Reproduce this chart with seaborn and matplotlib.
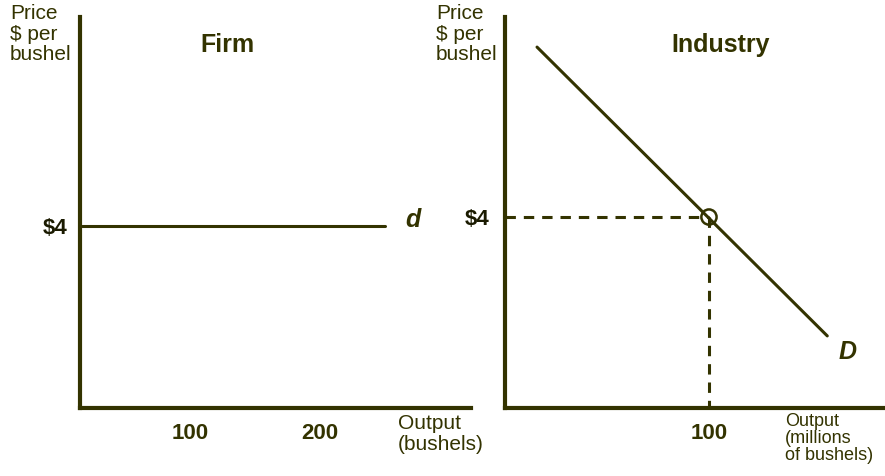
import numpy as np
import pandas as pd
import matplotlib
matplotlib.use("Agg")
import matplotlib.pyplot as plt
import seaborn as sns

# =====================================
# Data
# =====================================

firm_output = [17, 250]
firm_price = [4, 4]
firm_ticks = [100, 200]

industry_output = [15.7, 158]
industry_price = [7.56, 1.51]
industry_ticks = [100]

eq_quantity = 100
eq_price = 4

# =====================================
# Style
# =====================================

sns.set_style("white")
plt.rcParams["font.family"] = ["Liberation Sans", "DejaVu Sans"]

ink = "#333300"
W, H = 885, 476

fig = plt.figure(figsize=(W / 100, H / 100), dpi=100)

ax1 = fig.add_axes([80 / W, 68 / H, 391 / W, 391 / H])
ax2 = fig.add_axes([505 / W, 68 / H, 380 / W, 391 / H])

for ax in (ax1, ax2):
    sns.despine(ax=ax)
    for side in ("left", "bottom"):
        ax.spines[side].set_color(ink)
        ax.spines[side].set_linewidth(3)
    ax.tick_params(length=0, colors=ink)
    ax.set_facecolor("none")

# =====================================
# Firm
# =====================================

sns.lineplot(x=firm_output, y=firm_price, ax=ax1, color=ink, linewidth=2.2)
ax1.set_xlim(15.4, 316)
ax1.set_ylim(0, 8.6)
ax1.set_xticks(firm_ticks)
ax1.set_xticklabels([str(t) for t in firm_ticks], fontsize=16, fontweight="bold")
ax1.set_yticks([eq_price])
ax1.set_yticklabels(["$4"], fontsize=16, fontweight="bold", color="#1a1a00")
ax1.tick_params(axis="x", pad=11)
ax1.tick_params(axis="y", pad=9)
ax1.text(0.378, 0.928, "Firm", transform=ax1.transAxes, ha="center", va="center",
         fontsize=18, fontweight="bold", color=ink)
ax1.text(firm_output[1] + 21, eq_price + 0.13, "d", ha="center", va="center",
         fontsize=18, fontweight="bold", fontstyle="italic", color=ink)

# =====================================
# Industry
# =====================================

sns.lineplot(x=industry_output, y=industry_price, ax=ax2, color=ink, linewidth=2.2)
dash = (0, (3.4, 2.6))
ax2.plot([0, eq_quantity], [eq_price, eq_price], color=ink, linewidth=2.2,
         linestyle=dash)
ax2.plot([eq_quantity, eq_quantity], [eq_price, 0], color=ink, linewidth=2.2,
         linestyle=dash)
ax2.scatter([eq_quantity], [eq_price], s=120, facecolors="none", edgecolors=ink,
            linewidths=1.8, zorder=5)
ax2.set_xlim(0, 186.3)
ax2.set_ylim(0, 8.19)
ax2.set_xticks(industry_ticks)
ax2.set_xticklabels([str(t) for t in industry_ticks], fontsize=16, fontweight="bold")
ax2.set_yticks([eq_price])
ax2.set_yticklabels(["$4"], fontsize=16, fontweight="bold", color="#1a1a00")
ax2.tick_params(axis="x", pad=11)
ax2.tick_params(axis="y", pad=11)
ax2.text(0.568, 0.928, "Industry", transform=ax2.transAxes, ha="center", va="center",
         fontsize=18, fontweight="bold", color=ink)
ax2.text(168, 1.17, "D", ha="center", va="center",
         fontsize=18, fontweight="bold", fontstyle="italic", color=ink)

# =====================================
# Axis captions
# =====================================

caption = dict(color=ink, ha="left", va="top", linespacing=1.1)
fig.text(10 / W, 1 - 4 / H, "Price\n$ per\nbushel", fontsize=15, **caption)
fig.text(436 / W, 1 - 4 / H, "Price\n$ per\nbushel", fontsize=15, **caption)
fig.text(398 / W, 1 - 414 / H, "Output\n(bushels)", fontsize=15, **caption)
fig.text(785 / W, 1 - 413 / H, "Output\n(millions\nof bushels)", fontsize=13,
         **dict(caption, linespacing=1.0))

fig.savefig("out.png", dpi=100)
